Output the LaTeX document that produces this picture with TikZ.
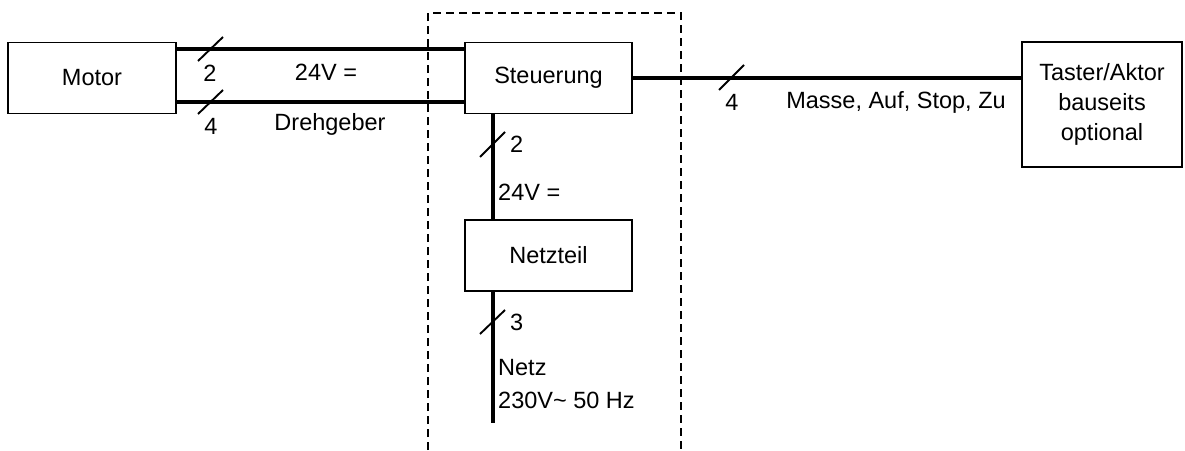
\documentclass[tikz,border=0pt]{standalone}
\usepackage{fontspec}
\setmainfont{Liberation Sans}
\begin{document}
\begin{tikzpicture}[x=1pt,y=-1pt,
  box/.style={draw,line width=1.6pt,inner sep=0pt,align=center,font=\fontsize{23.5}{30}\selectfont},
  wire/.style={line width=3.4pt},
  tick/.style={line width=1.9pt},
  lbl/.style={inner sep=0pt,font=\fontsize{23.5}{32}\selectfont},
  frame/.style={line width=1.5pt,dash pattern=on 8pt off 5pt}]
\useasboundingbox (0,0) rectangle (1185,450);
% boxes
\node[box,minimum width=168pt,minimum height=71pt] (motor) at (92,78) {Motor};
\node[box,minimum width=167pt,minimum height=71pt] (steu) at (548.5,78) {Steuerung};
\node[box,minimum width=167pt,minimum height=71pt] (netz) at (548.5,255.5) {Netzteil};
\node[box,minimum width=160pt,minimum height=125pt,align=center] (taster) at (1102,104.5) {Taster/Aktor\\bauseits\\optional};
% dashed frame
\coordinate (fa) at (428,450);
\coordinate (fb) at (428,13);
\coordinate (fc) at (681,13);
\coordinate (fd) at (681,450);
\draw[frame] (fa) -- (fb) -- (fc) -- (fd);
% motor - steuerung
\draw[wire] (motor.east |- 0,49) -- (steu.west |- 0,49);
\draw[wire] (motor.east |- 0,102) -- (steu.west |- 0,102);
\draw[tick] (198,61) -- (223,37);
\draw[tick] (198,114) -- (223,90);
\node[lbl] (n2a) at (210,73) {2};
\node[lbl] (n4a) at (211,126) {4};
\node[lbl] (v24a) at (326,72) {24V =};
\node[lbl] (dreh) at (330,124) {Drehgeber};
% steuerung - taster
\draw[wire] (steu.east) -- (taster.west |- steu.east);
\draw[tick] (719,90) -- (744,65);
\node[lbl] (n4b) at (732,102) {4};
\node[lbl] (masse) at (896,102) {Masse, Auf, Stop, Zu};
% steuerung - netzteil
\draw[wire] (steu.south -| 493,0) -- (netz.north -| 493,0);
\draw[tick] (480,157) -- (505,132);
\node[lbl,anchor=west] (n2b) at (510,144) {2};
\node[lbl,anchor=west] (v24b) at (498,192) {24V =};
% netzteil - netz
\coordinate (netzend) at (493,423);
\draw[wire] (netz.south -| 493,0) -- (netzend);
\draw[tick] (480,334) -- (505,310);
\node[lbl,anchor=west] (n3) at (510,322) {3};
\node[lbl,anchor=west] (netzl) at (498,368) {Netz};
\node[lbl,anchor=west] (v230) at (498,400) {230V\char"007E\ 50 Hz};
\end{tikzpicture}
\end{document}
